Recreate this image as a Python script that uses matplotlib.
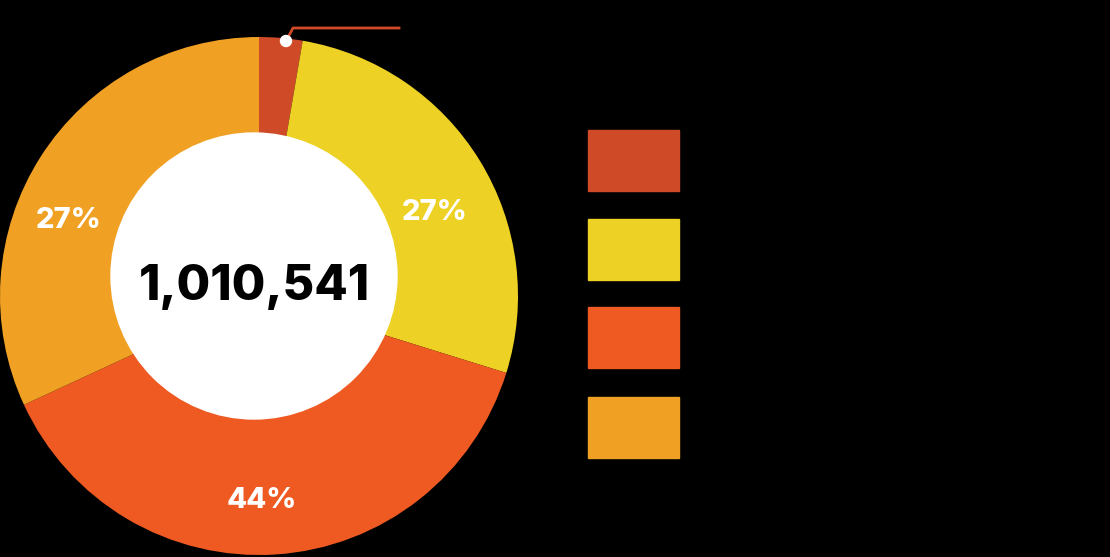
import matplotlib
matplotlib.use('Agg')
import matplotlib.pyplot as plt
from matplotlib.patches import Circle, Rectangle

# slice shares as drawn (small red slice is unlabeled)
shares = [2.7, 27.1, 38.3, 31.9]
labels = ['', '27%', '44%', '27%']
colors = ['#CF4A27', '#EDD124', '#EE5A22', '#F0A023']
total = '1,010,541'

fig = plt.figure(figsize=(11.1, 5.57), dpi=100, facecolor='black')
ax = fig.add_axes([0, 0, 1, 1])
ax.set_facecolor('black')

cx, cy, r = 259, 296, 259
# y axis is flipped below, so startangle=-90 is 12 o'clock and
# counterclock=True runs clockwise on screen
ax.pie(shares, colors=colors, center=(cx, cy), radius=r,
       startangle=-90, counterclock=True, frame=True)
ax.set_xlim(0, 1110)
ax.set_ylim(557, 0)
ax.set_aspect('equal')
ax.axis('off')

# white hole
ax.add_patch(Circle((254, 276), 143, color='white', zorder=3))
ax.text(254, 287, total, ha='center', va='center', fontsize=35,
        fontweight='heavy', family='Inter', color='black', zorder=4)

# percentage labels
label_pos = [None, (435, 212), (262, 500), (69, 221)]
for lab, pos in zip(labels, label_pos):
    if pos:
        ax.text(pos[0], pos[1], lab, ha='center', va='center', fontsize=21,
                fontweight='heavy', family='Inter', color='white', zorder=4)

# leader for small slice
ax.plot([286, 293, 399], [41, 28, 28], color='#D04A26', lw=2, zorder=4)
ax.add_patch(Circle((286, 41), 5.5, color='white', zorder=5))

# legend swatches
sw_top = [130, 219, 307, 397]
for c, y in zip(colors, sw_top):
    ax.add_patch(Rectangle((588, y), 91, 61, color=c, zorder=2))

fig.savefig('out.png', dpi=100, facecolor='black')
